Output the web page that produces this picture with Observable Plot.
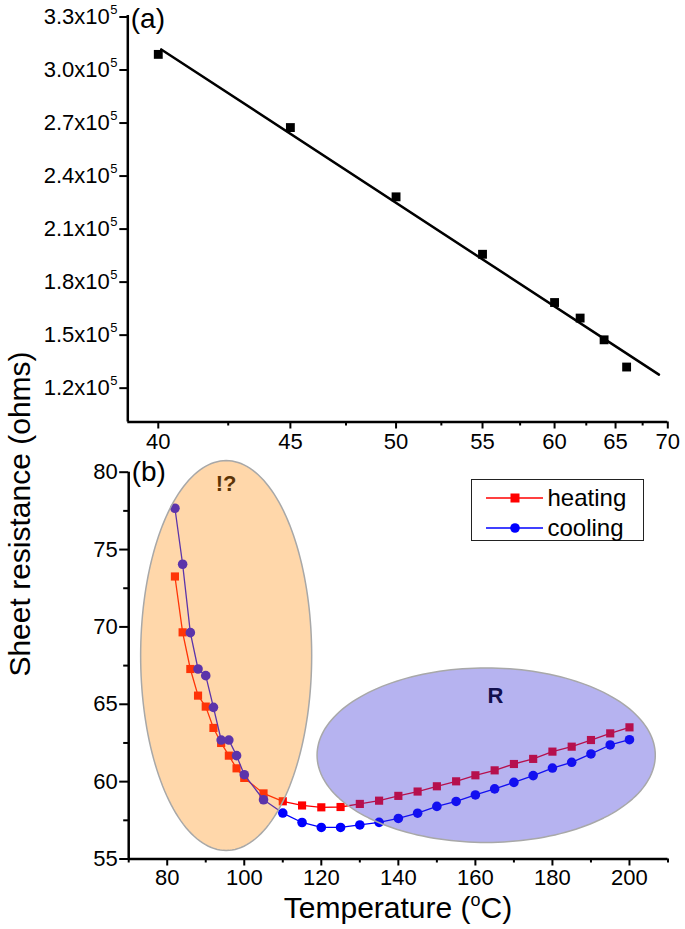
<!DOCTYPE html>
<html><head><meta charset="utf-8">
<script src="https://cdn.jsdelivr.net/npm/d3@7"></script>
<script src="https://cdn.jsdelivr.net/npm/@observablehq/plot@0.6"></script>
<style>
body{margin:0;background:#fff;}
#wrap{position:relative;width:685px;height:929px;font-family:"Liberation Sans",Arial,Helvetica,sans-serif;color:#000;overflow:hidden;}
#wrap > svg{position:absolute;left:0;top:0;}
.ttl{position:absolute;white-space:nowrap;font-size:30px;line-height:1;}
.ttl sup{font-size:18px;vertical-align:0;position:relative;top:-12px;}
#legend{position:absolute;left:470.5px;top:479px;width:171px;height:60px;border:1.5px solid #222;background:#fff;}
#legend .row{position:absolute;left:0;height:30px;display:flex;align-items:center;font-size:24px;}
#legend svg{display:block;}
</style></head>
<body><div id="wrap"></div>
<script>
// ---------- Panel (a) ----------
const tempA = [40, 45, 50, 55, 60, 62, 64, 66];
const resA = [3.080e5, 2.666e5, 2.274e5, 1.949e5, 1.676e5, 1.588e5, 1.465e5, 1.311e5];
const fitTempA = [40.1, 69.1];
const fitResA = [3.108e5, 1.268e5];
const xDomainA = [39, 70];
const yDomainA = [1.0e5, 3.3e5];
const xTicksA = [40, 45, 50, 55, 60, 65, 70];
const xMinorA = [42.5, 47.5, 52.5, 57.5, 62.5, 67.5];
const yTicksA = [1.2e5, 1.5e5, 1.8e5, 2.1e5, 2.4e5, 2.7e5, 3.0e5, 3.3e5];

// ---------- Panel (b) ----------
const tempB = [82, 84, 86, 88, 90, 92, 94, 96, 98, 100, 105, 110, 115, 120, 125, 130, 135, 140, 145, 150, 155, 160, 165, 170, 175, 180, 185, 190, 195, 200];
const heating = [73.26, 69.65, 67.28, 65.56, 64.85, 63.47, 62.5, 61.68, 60.86, 60.24, 59.24, 58.73, 58.46, 58.34, 58.36, 58.56, 58.77, 59.08, 59.36, 59.7, 60.02, 60.41, 60.73, 61.14, 61.47, 61.94, 62.26, 62.69, 63.12, 63.51];
const cooling = [77.67, 74.05, 69.63, 67.28, 66.85, 64.80, 62.69, 62.69, 61.68, 60.45, 58.83, 57.97, 57.36, 57.04, 57.04, 57.2, 57.37, 57.62, 57.96, 58.4, 58.72, 59.14, 59.53, 59.95, 60.39, 60.88, 61.25, 61.79, 62.37, 62.71];
const xDomainB = [70, 210];
const yDomainB = [55, 80];
const xTicksB = [80, 100, 120, 140, 160, 180, 200];
const xMinorB = [70, 90, 110, 130, 150, 170, 190, 210];
const yTicksB = [55, 60, 65, 70, 75, 80];
const yMinorB = [57.5, 62.5, 67.5, 72.5, 77.5];
const regionNames = ["!?", "R"];
const regionCx = [95.3, 162.8];
const regionCy = [68.15, 61.71];
const regionRx = [22.2, 43.9];
const regionRy = [12.6, 5.64];
const regionLabelX = [95.3, 165.2];
const regionLabelY = [79.24, 65.56];
const regionFill = ["rgb(255,144,20)", "rgb(52,44,214)"];
const seriesNames = ["heating", "cooling"];
const seriesColors = ["#ff0000", "#0000ff"];

const FONT = '"Liberation Sans", Arial, Helvetica, sans-serif';
const W = 685, H = 929;
const wrap = document.getElementById("wrap");

const pointsA = tempA.map((t, i) => ({t, r: resA[i]}));
const fitA = fitTempA.map((t, i) => ({t, r: fitResA[i]}));
const fmtA = d => (d / 1e5).toFixed(1) + "x10";

const plotA = Plot.plot({
  width: W, height: H,
  marginLeft: 127.3, marginRight: 17.7, marginTop: 15, marginBottom: H - 421.5,
  style: {background: "transparent", fontFamily: FONT, fontSize: "22px", color: "#000", overflow: "visible"},
  x: {type: "pow", exponent: -1, domain: xDomainA, axis: null},
  y: {domain: yDomainA, axis: null},
  marks: [
    Plot.axisY({ticks: yTicksA, anchor: "left", tickSize: 8, tickPadding: 10, tickFormat: fmtA, strokeWidth: 2, label: null, fontSize: 22, dy: 1.5}),
    Plot.text(yTicksA, {frameAnchor: "left", y: d => d, text: () => "5", textAnchor: "start", dx: -17.5, dy: -6, fontSize: 13}),
    Plot.axisX({ticks: xTicksA, anchor: "bottom", tickSize: 7, tickPadding: 4, strokeWidth: 2, label: null, fontSize: 22}),
    Plot.axisX({ticks: xMinorA, anchor: "bottom", tickSize: 4, tickFormat: () => "", strokeWidth: 2, label: null}),
    Plot.ruleX([xDomainA[0]], {strokeWidth: 2.5}),
    Plot.ruleY([yDomainA[0]], {strokeWidth: 2.5}),
    Plot.line(fitA, {x: "t", y: "r", stroke: "#000", strokeWidth: 2.5}),
    Plot.dot(pointsA, {x: "t", y: "r", symbol: "square", r: 5, fill: "#000", stroke: "none"}),
    Plot.text(["(a)"], {text: d => d, frameAnchor: "top-left", dx: 3, dy: -7, textAnchor: "start", lineAnchor: "top", fontSize: 28})
  ]
});
wrap.appendChild(plotA);

const rowsB = tempB.map((t, i) => ({t, heating: heating[i], cooling: cooling[i]}));
const angles = d3.range(0, 360, 2);
const ellipses = regionNames.map((name, k) => angles.map(a => ({
  k, x: regionCx[k] + regionRx[k] * Math.cos(a * Math.PI / 180), y: regionCy[k] + regionRy[k] * Math.sin(a * Math.PI / 180)
})));
const regionLabels = regionNames.map((name, k) => ({name, x: regionLabelX[k], y: regionLabelY[k]}));

const plotB = Plot.plot({
  width: W, height: H,
  marginLeft: 128.2, marginRight: 17.5, marginTop: 471.7, marginBottom: H - 858.5,
  style: {background: "transparent", fontFamily: FONT, fontSize: "22px", color: "#000", overflow: "visible"},
  x: {domain: xDomainB, axis: null},
  y: {domain: yDomainB, axis: null},
  marks: [
    Plot.axisY({ticks: yTicksB, anchor: "left", tickSize: 9, tickPadding: 2, strokeWidth: 2, label: null, fontSize: 22}),
    Plot.axisY({ticks: yMinorB, anchor: "left", tickSize: 5, tickFormat: () => "", strokeWidth: 2, label: null}),
    Plot.axisX({ticks: xTicksB, anchor: "bottom", tickSize: 7, tickPadding: 3, strokeWidth: 2, label: null, fontSize: 22}),
    Plot.axisX({ticks: xMinorB, anchor: "bottom", tickSize: 4, tickFormat: () => "", strokeWidth: 2, label: null}),
    Plot.ruleX([xDomainB[0]], {strokeWidth: 2.5}),
    Plot.ruleY([yDomainB[0]], {strokeWidth: 2.5}),
    Plot.line(rowsB, {x: "t", y: "heating", stroke: seriesColors[0], strokeWidth: 1.3}),
    Plot.dot(rowsB, {x: "t", y: "heating", symbol: "square", r: 4.6, fill: seriesColors[0], stroke: "none"}),
    Plot.line(rowsB, {x: "t", y: "cooling", stroke: seriesColors[1], strokeWidth: 1.3}),
    Plot.dot(rowsB, {x: "t", y: "cooling", symbol: "circle", r: 4.8, fill: seriesColors[1], stroke: "none"}),
    Plot.text(regionLabels, {x: "x", y: "y", text: "name", fontSize: 22, fontWeight: "bold", fill: "#000"}),
    ...ellipses.map((pts, k) => Plot.line(pts, {x: "x", y: "y", curve: "linear-closed", fill: regionFill[k], fillOpacity: 0.36, stroke: "#a8a8a8", strokeWidth: 1.5})),
    Plot.text(["(b)"], {text: d => d, frameAnchor: "top-left", dx: 3, dy: -11, textAnchor: "start", lineAnchor: "top", fontSize: 28})
  ]
});
wrap.appendChild(plotB);

// Axis titles
const yt = document.createElement("div");
yt.className = "ttl";
yt.textContent = "Sheet resistance (ohms)";
yt.style.left = "20px"; yt.style.top = "514px";
yt.style.transform = "translate(-50%,-50%) rotate(-90deg)";
wrap.appendChild(yt);

const xt = document.createElement("div");
xt.className = "ttl";
xt.innerHTML = "Temperature (<sup>o</sup>C)";
xt.style.left = "398px"; xt.style.top = "908px";
xt.style.transform = "translate(-50%,-50%)";
wrap.appendChild(xt);

// Legend
const lg = document.createElement("div");
lg.id = "legend";
seriesNames.forEach((name, k) => {
  const row = document.createElement("div");
  row.className = "row";
  row.style.top = (3 + k * 30) + "px";
  const sw = d3.create("svg").attr("width", 76).attr("height", 30);
  sw.append("line").attr("x1", 14).attr("x2", 71).attr("y1", 15).attr("y2", 15).attr("stroke", seriesColors[k]).attr("stroke-width", 1.3);
  if (k === 0) sw.append("rect").attr("x", 38.5).attr("y", 10.5).attr("width", 9).attr("height", 9).attr("fill", seriesColors[k]);
  else sw.append("circle").attr("cx", 43).attr("cy", 15).attr("r", 4.8).attr("fill", seriesColors[k]);
  row.appendChild(sw.node());
  const tx = document.createElement("span");
  tx.textContent = name;
  row.appendChild(tx);
  lg.appendChild(row);
});
wrap.appendChild(lg);
</script>
</body></html>
